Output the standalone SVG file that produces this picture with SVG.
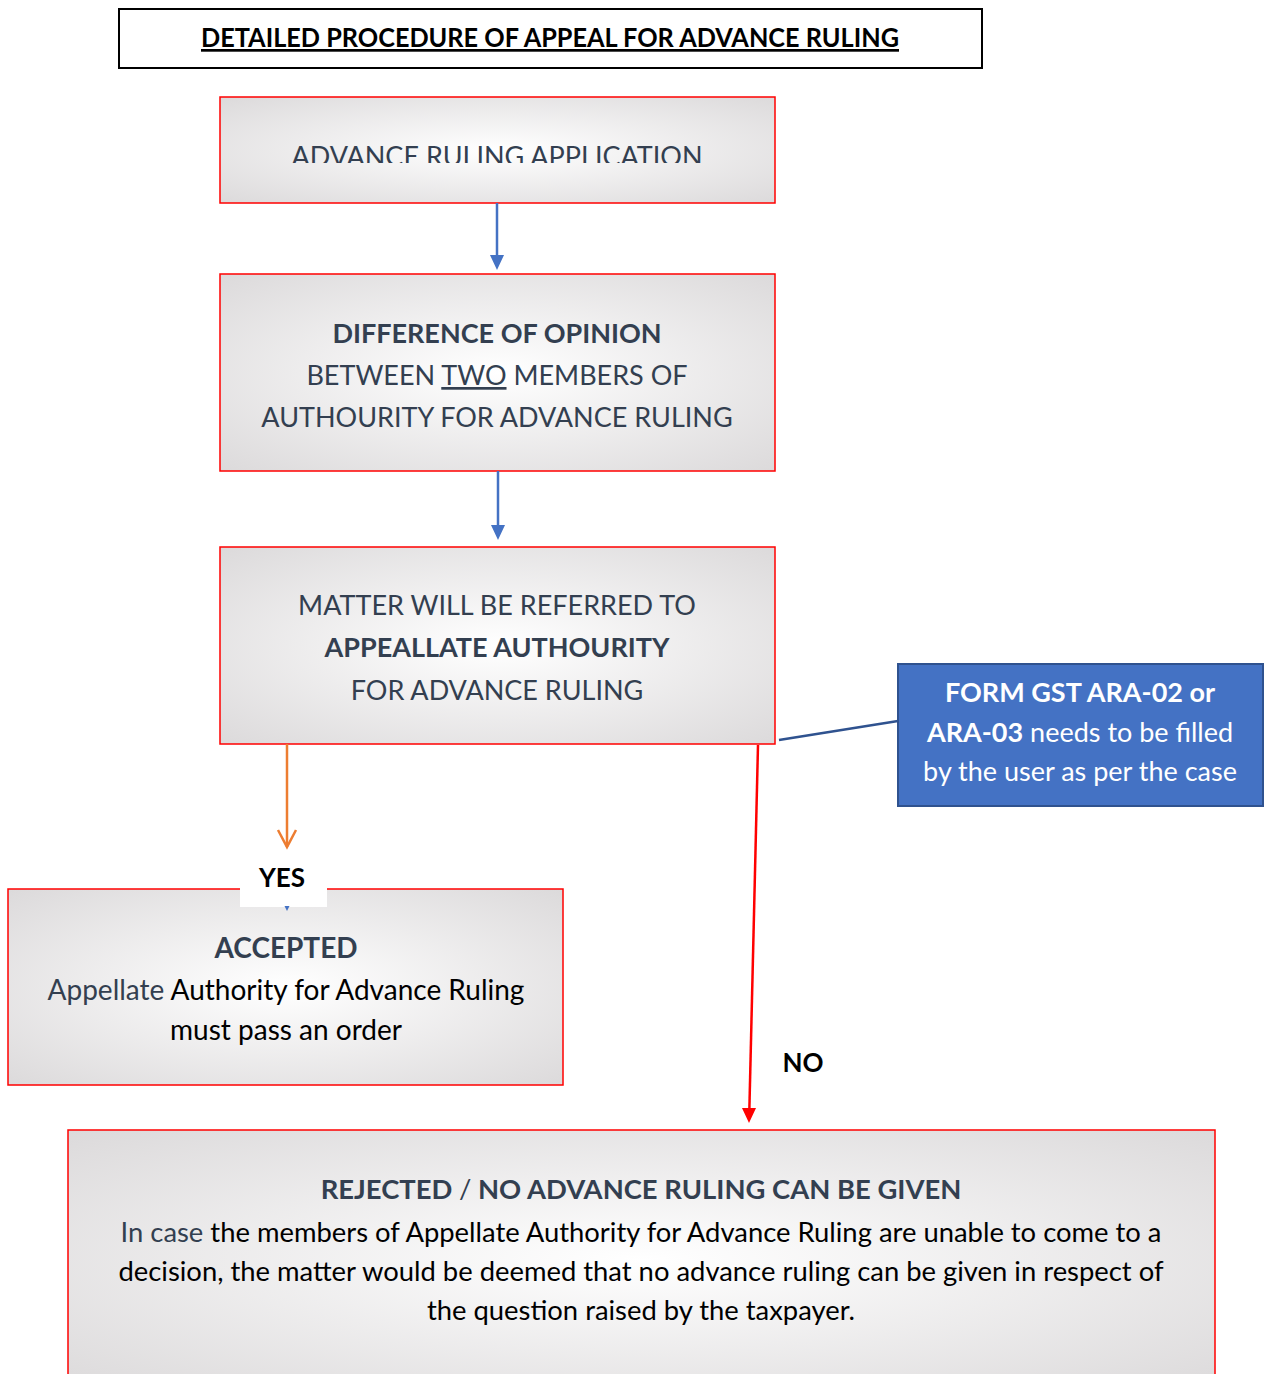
<svg xmlns="http://www.w3.org/2000/svg" width="1272" height="1374" viewBox="0 0 1272 1374">
<style>
.box{stroke:#ff0000;stroke-width:1.5;fill:url(#g)}
.t{font-family:Lato,"Open Sans","Liberation Sans",sans-serif;font-size:27px;text-anchor:middle;fill:#333f50}
.m{font-size:28px}
.s{font-size:27.4px}
.b{font-weight:bold}
.k{fill:#000}
.w{fill:#fff}
.blue{stroke:#4472c4;stroke-width:2.5;fill:none}
</style>
<defs>
<radialGradient id="g" cx="0.5" cy="0.5" r="0.7">
<stop offset="0" stop-color="#ffffff"/>
<stop offset="1" stop-color="#dcdadb"/>
</radialGradient>
<clipPath id="c1"><rect x="220" y="97" width="555" height="66"/></clipPath>
</defs>

<g id="title">
<rect x="119" y="9" width="863" height="59" fill="#fff" stroke="#000" stroke-width="2"/>
<text x="550" y="47" font-family="Lato,'Liberation Sans',sans-serif" font-weight="bold" font-size="27" text-anchor="middle" text-decoration="underline" textLength="698" lengthAdjust="spacingAndGlyphs">DETAILED PROCEDURE OF APPEAL FOR ADVANCE RULING</text>
</g>

<g id="n1">
<rect class="box" x="220" y="97" width="555" height="106"/>
<text class="t" x="497" y="166" clip-path="url(#c1)">ADVANCE RULING APPLICATION</text>
</g>

<g id="n2">
<rect class="box" x="220" y="274" width="555" height="197"/>
<text class="t b" x="497" y="343">DIFFERENCE OF OPINION</text>
<text class="t" x="497" y="385">BETWEEN <tspan text-decoration="underline">TWO</tspan> MEMBERS OF</text>
<text class="t" x="497" y="427">AUTHOURITY FOR ADVANCE RULING</text>
</g>

<g id="n3">
<rect class="box" x="220" y="547" width="555" height="197"/>
<text class="t" x="497" y="615">MATTER WILL BE REFERRED TO</text>
<text class="t b" x="497" y="657">APPEALLATE AUTHOURITY</text>
<text class="t" x="497" y="700">FOR ADVANCE RULING</text>
</g>

<g id="n4">
<rect class="box" x="8" y="889" width="555" height="196"/>
<text class="t b m" x="286" y="958">ACCEPTED</text>
<text class="t k m" x="286" y="1000"><tspan fill="#333f50">Appellate</tspan> Authority for Advance Ruling</text>
<text class="t k m" x="286" y="1040">must pass an order</text>
</g>

<g id="n5">
<rect class="box" x="68" y="1130" width="1147" height="260"/>
<text class="t b s" x="641" y="1199">REJECTED <tspan font-weight="normal">/</tspan> NO ADVANCE RULING CAN BE GIVEN</text>
<text class="t k s" x="641" y="1242"><tspan fill="#333f50">In case</tspan> the members of Appellate Authority for Advance Ruling are unable to come to a</text>
<text class="t k s" x="641" y="1281">decision, the matter would be deemed that no advance ruling can be given in respect of</text>
<text class="t k s" x="641" y="1320">the question raised by the taxpayer.</text>
</g>

<g id="note">
<rect x="898" y="664" width="365" height="142" fill="#4472c4" stroke="#2f528f" stroke-width="2"/>
<text class="t w b" x="1080" y="702">FORM GST ARA-02 or</text>
<text class="t w" x="1080" y="742"><tspan font-weight="bold">ARA-03</tspan> needs to be filled</text>
<text class="t w" x="1080" y="781">by the user as per the case</text>
</g>

<g id="connectors">
<line x1="497" y1="203" x2="497" y2="256" class="blue"/>
<path d="M490,255 L504,255 L497,270 Z" fill="#4472c4"/>
<line x1="498" y1="471" x2="498" y2="526" class="blue"/>
<path d="M491,525 L505,525 L498,540 Z" fill="#4472c4"/>
<line x1="287" y1="744" x2="287" y2="847" stroke="#ed7d31" stroke-width="2.5"/>
<path d="M278,830 L287,847 L296,830" fill="none" stroke="#ed7d31" stroke-width="2.5"/>
<line x1="779" y1="740" x2="898" y2="721" stroke="#2f528f" stroke-width="2.5"/>
<line x1="758" y1="745" x2="749.4" y2="1108" stroke="#ff0000" stroke-width="2.5"/>
<path d="M742,1108 L756,1108 L749,1123 Z" fill="#ff0000"/>
</g>

<g id="yes">
<rect x="240" y="862" width="87" height="45" fill="#fff"/>
<text x="282" y="887" font-family="Lato,'Open Sans',sans-serif" font-weight="bold" font-size="26" text-anchor="middle" fill="#000">YES</text>
<path d="M284.5,906 L289.5,906 L287,911 Z" fill="#4472c4"/>
</g>

<g id="no">
<text x="803" y="1072" font-family="Lato,'Open Sans',sans-serif" font-weight="bold" font-size="26" text-anchor="middle" fill="#000">NO</text>
</g>
</svg>
